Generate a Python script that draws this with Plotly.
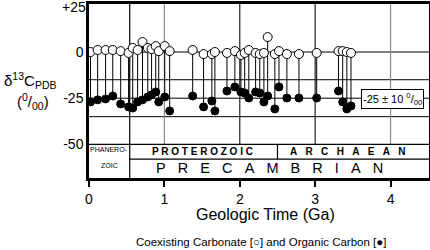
import plotly.graph_objects as go

# Sample ages (Ga)
age_ga = [0.02, 0.115, 0.22, 0.315, 0.42, 0.525, 0.58, 0.645, 0.71, 0.78, 0.83, 0.885,
          0.925, 1.005, 1.07, 1.375, 1.52, 1.63, 1.67, 1.83, 1.935, 2.015, 2.065, 2.12,
          2.21, 2.265, 2.32, 2.37, 2.465, 2.52, 2.625, 2.785, 3.02, 3.31, 3.365, 3.42, 3.475]
# Coexisting carbonate d13C (permil)
carbonate = [0.0, 1.1, 1.1, 1.1, 0.5, -0.5, 2.2, 1.1, 5.4, 2.2, 1.6, 3.2,
             0.5, 3.2, 0.5, 1.1, -1.1, -1.1, 0.0, -0.5, 0.5, -1.6, -0.5, 1.1,
             -0.5, -1.1, -0.5, 8.1, -1.1, 0.5, -1.1, -1.1, -0.5, 0.5, 0.5, 0.0, -0.5]
# Organic carbon d13C (permil)
organic = [-27.0, -25.9, -25.4, -23.8, -28.1, -29.7, -30.3, -27.0, -25.9, -24.3, -23.2, -21.6,
           -27.0, -24.3, -31.9, -23.8, -29.7, -26.5, -31.9, -21.1, -18.9, -21.6, -22.2, -24.9,
           -21.6, -22.2, -27.0, -23.8, -30.8, -18.9, -24.9, -24.9, -24.9, -21.1, -27.0, -30.8, -29.2]

x_ticks = [0, 1, 2, 3, 4]
y_ticks = [0, -25, -50]
y_tick_text = ["0", "-25", "-50"]
y_top_tick = 25
y_top_tick_text = "+25"
h_grid = [0, -15, -25, -35]
v_grid = [1, 2, 3, 4]
v_grid_color = ["#8a8a8a", "#222", "#222", "#8a8a8a"]
phanerozoic_end = 0.54
archaean_start = 2.5

FONT = "Liberation Sans, Arial, sans-serif"
XMAX = 4.51
YMIN, YMAX = -68.2, 26.0

# connecting stems
sx, sy = [], []
for a, c, o in zip(age_ga, carbonate, organic):
    sx += [a, a, None]
    sy += [c, o, None]

fig = go.Figure()
fig.add_trace(go.Scatter(x=sx, y=sy, mode="lines", line=dict(color="black", width=1),
                         hoverinfo="skip", showlegend=False))
fig.add_trace(go.Scatter(x=age_ga, y=organic, mode="markers",
                         marker=dict(symbol="circle", size=8, color="black",
                                     line=dict(color="black", width=1)),
                         showlegend=False))
fig.add_trace(go.Scatter(x=age_ga, y=carbonate, mode="markers",
                         marker=dict(symbol="circle", size=9, color="white",
                                     line=dict(color="black", width=1)),
                         showlegend=False))

shapes = []
for h in h_grid:
    shapes.append(dict(type="line", xref="x", yref="y", x0=0, x1=XMAX, y0=h, y1=h,
                       line=dict(color="black", width=1), layer="below"))
for v, col in zip(v_grid, v_grid_color):
    shapes.append(dict(type="line", xref="x", yref="y", x0=v, x1=v, y0=-50, y1=YMAX,
                       line=dict(color=col, width=1.2), layer="below"))
# Phanerozoic / Precambrian boundary
shapes.append(dict(type="line", xref="x", yref="y", x0=phanerozoic_end, x1=phanerozoic_end,
                   y0=YMIN, y1=YMAX, line=dict(color="black", width=1.2), layer="below"))
# time scale box
shapes.append(dict(type="line", xref="x", yref="y", x0=0, x1=XMAX, y0=-50, y1=-50,
                   line=dict(color="black", width=1.2)))
shapes.append(dict(type="line", xref="x", yref="y", x0=phanerozoic_end, x1=XMAX, y0=-58, y1=-58,
                   line=dict(color="black", width=1.2)))
shapes.append(dict(type="line", xref="x", yref="y", x0=archaean_start, x1=archaean_start,
                   y0=-50, y1=-58, line=dict(color="black", width=1.2)))

NB = "\u00a0"


def ann(x, y, text, size, xref="x", yref="y", xanchor="center", **kw):
    return dict(x=x, y=y, xref=xref, yref=yref, text=text, showarrow=False,
                xanchor=xanchor, yanchor="middle",
                font=dict(family=FONT, size=size, color="black"), **kw)


annotations = [
    ann(0, y_top_tick, y_top_tick_text, 14, xref="paper", xanchor="right", xshift=-1, yshift=-1.5),
    ann(0.27, -52.6, "PHANERO-", 7),
    ann(0.27, -61.6, "ZOIC", 7),
    ann(1.51, -54.0, "<b>" + " ".join("PROTEROZOIC") + "</b>", 10),
    ann(3.43, -54.0, "<b>" + (NB * 3).join("ARCHAEAN") + "</b>", 10),
    ann(2.40, -63.0, (NB * 3).join("PRECAMBRIAN"), 14.5),
    ann(4.02, -25.5, "-25" + NB + "±" + NB + "10" + NB + "<sup>0</sup>/<sub>00</sub>", 11,
        bgcolor="white", bordercolor="black", borderwidth=1, borderpad=1),
    ann(-0.175, 0.56, "δ<sup>13</sup>C<sub>PDB</sub>", 15, xref="paper", yref="paper"),
    ann(-0.165, 0.44, "(<sup>0</sup>/<sub>00</sub>)", 15, xref="paper", yref="paper"),
    ann(0.518, -0.21, "Geologic Time (Ga)", 16, xref="paper", yref="paper"),
    ann(0.505, -0.37, "Coexisting Carbonate [○] and Organic Carbon [●]", 11.5,
        xref="paper", yref="paper"),
]

fig.update_layout(
    width=430, height=250,
    margin=dict(l=89, r=1, t=4, b=72, autoexpand=False),
    paper_bgcolor="white", plot_bgcolor="white",
    shapes=shapes, annotations=annotations,
    showlegend=False,
    xaxis=dict(range=[0, XMAX], tickvals=x_ticks, ticks="outside", ticklen=6, tickwidth=2,
               tickcolor="black", showgrid=False, zeroline=False, automargin=False,
               showline=True, linewidth=2.5, linecolor="black", mirror=True,
               tickfont=dict(family=FONT, size=14, color="black")),
    yaxis=dict(range=[YMIN, YMAX], tickvals=y_ticks, ticktext=y_tick_text, ticks="",
               showgrid=False, zeroline=False, automargin=False,
               showline=True, linewidth=2.5, linecolor="black", mirror=True,
               tickfont=dict(family=FONT, size=14, color="black")),
)

fig.write_html("out.html", config={"displayModeBar": False},
               post_script="document.body.style.margin='0px';document.body.style.padding='0px';")
